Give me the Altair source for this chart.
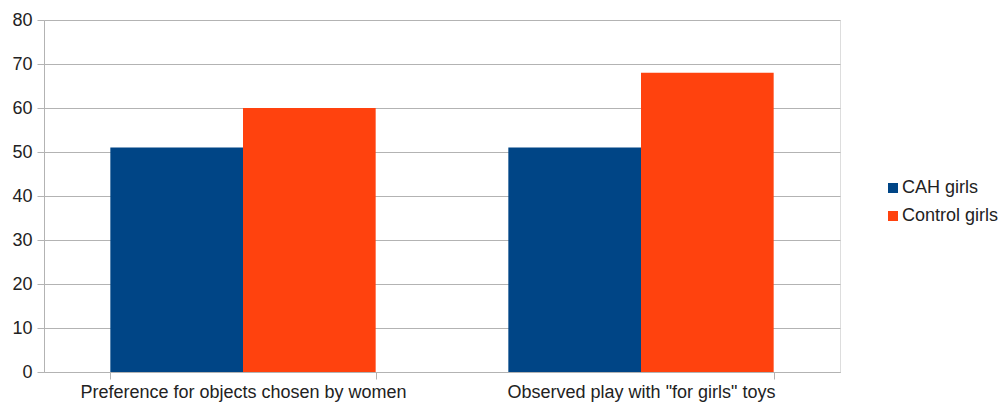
import altair as alt
import pandas as pd

categories = ["Preference for objects chosen by women", 'Observed play with "for girls" toys']
series = ["CAH girls", "Control girls"]
cah_values = [51, 51]
control_values = [60, 68]
colors = ["#004586", "#ff420e"]
y_ticks = [0, 10, 20, 30, 40, 50, 60, 70, 80]

rows = []
for i, c in enumerate(categories):
    rows.append({"category": c, "group": series[0], "value": cah_values[i]})
    rows.append({"category": c, "group": series[1], "value": control_values[i]})
df = pd.DataFrame(rows)

FONT = "Liberation Sans"
GRID = "#b3b3b3"

chart = alt.Chart(df).mark_bar().encode(
    x=alt.X("category:N", sort=categories, title=None,
            scale=alt.Scale(paddingInner=1/3, paddingOuter=1/6),
            axis=alt.Axis(labelAngle=0, tickBand="extent", grid=False,
                          domainColor=GRID, tickColor=GRID, tickSize=7,
                          labelFont=FONT, labelFontSize=18, labelColor="#222222",
                          labelPadding=4, labelLimit=500)),
    xOffset=alt.XOffset("group:N", sort=series),
    y=alt.Y("value:Q", title=None, scale=alt.Scale(domain=[0, 80], nice=False),
            axis=alt.Axis(values=y_ticks, grid=True, gridColor=GRID,
                          domainColor=GRID, tickColor=GRID, tickSize=7,
                          labelFont=FONT, labelFontSize=18, labelColor="#222222",
                          labelPadding=5)),
    color=alt.Color("group:N", sort=series,
                    scale=alt.Scale(domain=series, range=colors),
                    legend=alt.Legend(title=None, orient="none", legendX=840, legendY=159,
                                      symbolType="square", symbolSize=100,
                                      symbolStrokeWidth=0,
                                      labelFont=FONT, labelFontSize=18, labelColor="#222222",
                                      labelOffset=0, rowPadding=10, padding=0)),
).properties(
    width=796, height=352,
    autosize=alt.AutoSizeParams(type="none"),
    padding={"left": 44, "top": 20, "right": 161, "bottom": 36},
).configure_view(stroke=GRID, strokeWidth=1).configure(background="white")

chart.save("out.html", embed_options={"renderer": "svg", "actions": False})
